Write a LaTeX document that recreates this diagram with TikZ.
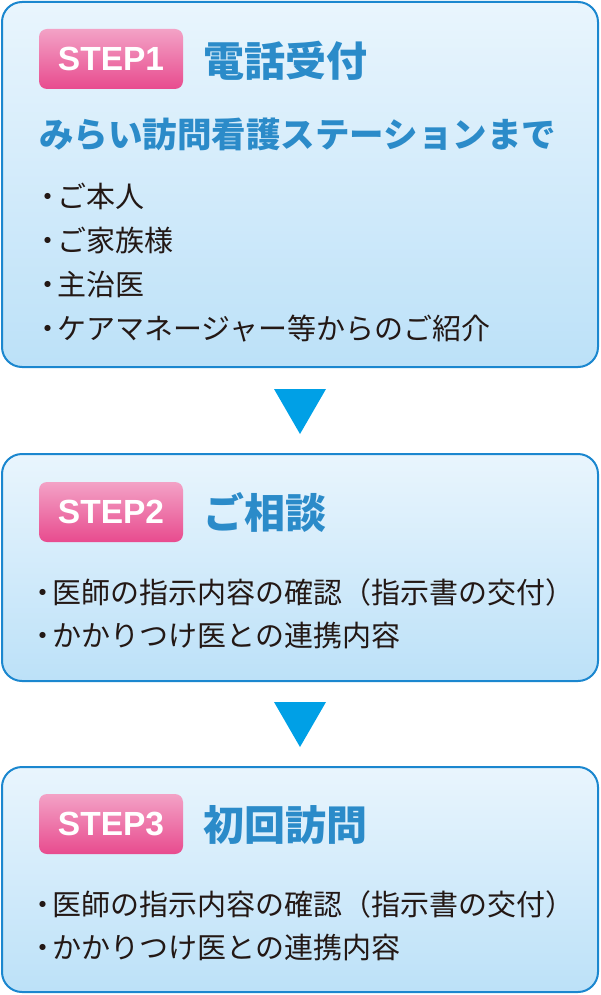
\documentclass[tikz,border=0pt]{standalone}
\usepackage{fontspec}
\newfontfamily\jp{Noto Sans CJK JP}
\newfontfamily\lat{Liberation Sans}
\definecolor{boxline}{HTML}{1B87CF}
\definecolor{boxtop}{HTML}{E9F5FD}
\definecolor{boxbot}{HTML}{BCE1F8}
\definecolor{pinktop}{HTML}{F3A2C6}
\definecolor{pinkbot}{HTML}{E84B8E}
\definecolor{titleblue}{HTML}{2B8BC9}
\definecolor{textdark}{HTML}{231815}
\definecolor{arrowblue}{HTML}{00A0E6}
\tikzset{
  stepbox/.style={draw=boxline, line width=2pt, rounded corners=20pt, top color=boxtop, bottom color=boxbot, minimum width=596pt, inner sep=0pt},
  badge/.style={rounded corners=8pt, top color=pinktop, bottom color=pinkbot, minimum width=144pt, minimum height=60pt, inner sep=0pt, text=white, font=\lat\bfseries\fontsize{33.5}{33.5}\selectfont},
  title/.style={anchor=base west, inner sep=0pt, text=titleblue, font=\jp\bfseries\fontsize{41}{41}\selectfont},
  subtitle/.style={anchor=base west, inner sep=0pt, text=titleblue, font=\jp\bfseries\fontsize{34.5}{34.5}\selectfont},
  item/.style={anchor=base west, inner sep=0pt, text=textdark, font=\jp\fontsize{29}{29}\selectfont},
  tri/.style={fill=arrowblue}
}
\newcommand{\bul}{・\kern-5pt}
\begin{document}
\begin{tikzpicture}[x=1pt,y=-1pt]
\useasboundingbox (0,0) rectangle (600,995);
% boxes
\node[stepbox, minimum height=365pt] (box1) at (300,184.5) {};
\node[stepbox, minimum height=227pt] (box2) at (300,567.5) {};
\node[stepbox, minimum height=225pt] (box3) at (300,879.5) {};
% arrows
\fill[tri] (box1.south) ++(-26,21) -- ++(52,0) -- ++(-26,45) -- cycle;
\fill[tri] (box2.south) ++(-26,20) -- ++(52,0) -- ++(-26,45) -- cycle;
% step 1
\node[badge] (b1) at (111,59) {STEP1};
\node[title] (t1) at (203,76.6) {電話受付};
\node[subtitle] (s1) at (39,147.6) {みらい訪問看護ステーションまで};
\node[item] (i11) at (33,207.5) {\bul ご本人};
\node[item] (i12) at (33,251.5) {\bul ご家族様};
\node[item] (i13) at (33,295.5) {\bul 主治医};
\node[item] (i14) at (33,339.5) {\bul ケアマネージャー等からのご紹介};
% step 2
\node[badge] (b2) at (111,512) {STEP2};
\node[title] (t2) at (203,528.6) {ご相談};
\node[item] (i21) at (28,603.5) {\bul 医師の指示内容の確認（指示書の交付）};
\node[item] (i22) at (28,646) {\bul かかりつけ医との連携内容};
% step 3
\node[badge] (b3) at (111,824) {STEP3};
\node[title] (t3) at (203,840.6) {初回訪問};
\node[item] (i31) at (28,915.5) {\bul 医師の指示内容の確認（指示書の交付）};
\node[item] (i32) at (28,958.5) {\bul かかりつけ医との連携内容};
\end{tikzpicture}
\end{document}
